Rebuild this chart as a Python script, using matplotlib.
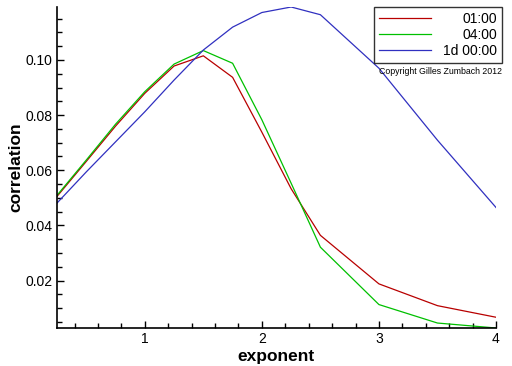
import matplotlib
matplotlib.use('Agg')
import matplotlib.pyplot as plt
from matplotlib.ticker import MultipleLocator
import numpy as np

exponent = [0.25, 0.5, 0.75, 1.0, 1.25, 1.5, 1.75, 2.0, 2.25, 2.5, 3.0, 3.5, 4.0]
corr_1h = [0.0505, 0.0632, 0.0760, 0.0879, 0.0978, 0.1015, 0.0937, 0.0738, 0.0533, 0.0364, 0.0188, 0.0109, 0.0067]
corr_4h = [0.0509, 0.0637, 0.0767, 0.0885, 0.0985, 0.1034, 0.0988, 0.0783, 0.0553, 0.0321, 0.0113, 0.0046, 0.0028]
corr_1d = [0.0481, 0.0594, 0.0703, 0.0812, 0.0927, 0.1036, 0.1119, 0.1172, 0.1192, 0.1164, 0.0970, 0.0709, 0.0465]
labels = ['01:00', '04:00', '1d 00:00']
colors = ['#b80000', '#00c000', '#3030c0']

plt.rcParams['font.family'] = 'Liberation Sans'

fig = plt.figure(figsize=(5.12, 3.66), dpi=100)
ax = fig.add_axes([57 / 512, 1 - 328 / 366, (496 - 57) / 512, (328 - 7) / 366])

for y, lab, c in zip([corr_1h, corr_4h, corr_1d], labels, colors):
    ax.plot(exponent, y, color=c, lw=0.9, label=lab)

allv = np.concatenate([corr_1h, corr_4h, corr_1d])
ax.set_xlim(exponent[0], exponent[-1])
ax.set_ylim(allv.min(), allv.max())

ax.spines['top'].set_visible(False)
ax.spines['right'].set_visible(False)
ax.spines['left'].set_linewidth(1.2)
ax.spines['bottom'].set_linewidth(1.2)

ax.xaxis.set_major_locator(MultipleLocator(1))
ax.xaxis.set_minor_locator(MultipleLocator(0.2))
ax.yaxis.set_minor_locator(MultipleLocator(0.005))
ax.set_yticks([0.02, 0.04, 0.06, 0.08, 0.10])
ax.set_yticklabels(['0.02', '0.04', '0.06', '0.08', '0.10'])
ax.tick_params(which='both', direction='in', labelsize=10, width=1)
ax.tick_params(which='major', length=5)
ax.tick_params(which='minor', length=3.5)
ax.tick_params(axis='x', pad=3)
ax.tick_params(axis='y', pad=3)

ax.set_xlabel('exponent', fontsize=12.5, fontweight='bold', labelpad=2)
ax.set_ylabel('correlation', fontsize=12.5, fontweight='bold', labelpad=2)

leg = ax.legend(loc='upper right', bbox_to_anchor=(502 / 512, 1 - 7 / 366),
                bbox_transform=fig.transFigure, fontsize=10, frameon=True,
                fancybox=False, borderpad=0.35, handlelength=3.7, handletextpad=0.9,
                labelspacing=0.15, borderaxespad=0)
leg.get_frame().set_edgecolor('black')
leg.get_frame().set_linewidth(1.0)

# right-align the legend texts
fig.canvas.draw()
r = fig.canvas.get_renderer()
texts = leg.get_texts()
widths = [t.get_window_extent(r).width for t in texts]
w = max(widths)
for t, tw in zip(texts, widths):
    t.set_position((w - tw, 0))

fig.text(502 / 512, 1 - 71 / 366, 'Copyright Gilles Zumbach 2012', fontsize=6.3,
         ha='right', va='center')

fig.savefig('out.png', dpi=100)
